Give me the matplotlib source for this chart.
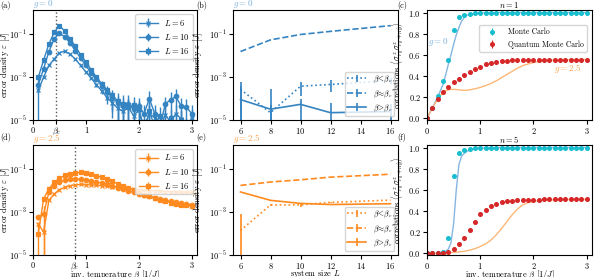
import matplotlib.pyplot as plt
import numpy as np

plt.rcParams['font.family'] = ['cmr10']
plt.rcParams['mathtext.fontset'] = 'cm'
plt.rcParams['axes.formatter.use_mathtext'] = True
plt.rcParams['font.size'] = 6
plt.rcParams['axes.linewidth'] = 0.8
plt.rcParams['xtick.major.size'] = 3
plt.rcParams['ytick.major.size'] = 3
plt.rcParams['xtick.major.width'] = 0.8
plt.rcParams['ytick.major.width'] = 0.8
plt.rcParams['xtick.major.pad'] = 1.5
plt.rcParams['ytick.major.pad'] = 1.5

# farby
blue = '#3584c2'
orange = '#ff8a1f'
blue_txt = '#7aaedb'
orange_txt = '#ffa24d'
cyan = '#17becf'
red = '#d62728'
blue_line = '#86b6e0'
orange_line = '#ffb777'

# ---------- data (a), (d): chyba vs. beta, hodnoty su log10 ----------
beta = [0.1, 0.2, 0.3, 0.4, 0.5, 0.6, 0.7, 0.8, 0.9, 1.0,
        1.1, 1.2, 1.3, 1.4, 1.5, 1.6, 1.7, 1.8, 1.9, 2.0,
        2.1, 2.2, 2.3, 2.4, 2.5, 2.6, 2.7, 2.8, 2.9, 3.0]
sizes = [6, 10, 16]
markers = ['x', 'o', 's']
beta_c_g0 = 0.44
beta_c_g25 = 0.79

log_eps_g0 = {
    6: [-3.6, -3.0, -2.45, -2.15, -1.85, -1.78, -1.92, -2.15, -2.45, -2.75,
        -3.05, -3.35, -3.65, -3.95, -4.2, -4.45, -4.6, -4.4, -4.8, -4.55,
        -5.3, -4.7, -4.9, -5.4, -4.75, -5.1, -4.7, -4.95, -5.3, -4.9],
    10: [-3.35, -2.6, -1.8, -1.2, -0.95, -1.1, -1.4, -1.75, -2.1, -2.45,
         -2.8, -3.1, -3.4, -3.7, -3.95, -4.2, -4.35, -4.25, -4.5, -4.35,
         -4.7, -4.0, -4.7, -5.3, -4.25, -4.05, -3.9, -4.35, -4.4, -4.7],
    16: [-3.0, -2.2, -1.45, -0.9, -0.58, -0.85, -1.2, -1.55, -1.95, -2.3,
         -2.65, -3.0, -3.3, -3.6, -3.85, -4.1, -4.25, -4.4, -4.3, -4.5,
         -5.5, -4.6, -5.3, -4.8, -5.5, -4.9, -5.4, -5.0, -5.6, -5.2],
}
rel_err_g0 = {
    6: [0.3, 0.1, 0.05, 0.05, 0.05, 0.05, 0.05, 0.05, 0.05, 0.1,
        0.1, 0.2, 0.3, 0.5, 0.8, 1.2, 1.5, 1.5, 1.5, 1.5,
        1.5, 1.5, 1.5, 1.5, 1.5, 1.5, 1.5, 1.5, 1.5, 1.5],
    10: [1.2, 0.1, 0.05, 0.05, 0.05, 0.05, 0.05, 0.05, 0.05, 0.1,
         0.1, 0.2, 0.3, 0.5, 0.8, 1.2, 1.5, 1.5, 1.5, 1.5,
         1.5, 1.2, 1.5, 1.5, 1.2, 1.2, 1.2, 1.5, 1.5, 1.5],
    16: [0.1, 0.05, 0.05, 0.05, 0.05, 0.05, 0.05, 0.05, 0.05, 0.1,
         0.1, 0.2, 0.3, 0.5, 0.8, 1.2, 1.5, 1.5, 1.5, 1.5,
         1.5, 1.5, 1.5, 1.5, 1.5, 1.5, 1.5, 1.5, 1.5, 1.5],
}
log_eps_g25 = {
    6: [-3.55, -3.93, -2.45, -2.14, -1.94, -1.83, -1.76, -1.72, -1.7, -1.71,
        -1.72, -1.74, -1.76, -1.78, -1.8, -1.83, -1.86, -1.89, -1.92, -1.95,
        -1.97, -1.99, -2.0, -2.02, -2.03, -2.04, -2.05, -2.06, -2.06, -2.07],
    10: [-3.23, -3.1, -2.06, -1.75, -1.6, -1.5, -1.46, -1.45, -1.46, -1.49,
         -1.53, -1.58, -1.64, -1.7, -1.77, -1.85, -1.92, -2.0, -2.07, -2.14,
         -2.2, -2.26, -2.32, -2.38, -2.44, -2.49, -2.54, -2.58, -2.61, -2.64],
    16: [-4.0, -2.38, -1.9, -1.6, -1.41, -1.28, -1.2, -1.15, -1.14, -1.17,
         -1.22, -1.29, -1.37, -1.46, -1.56, -1.66, -1.76, -1.87, -1.97, -2.07,
         -2.17, -2.26, -2.34, -2.42, -2.49, -2.55, -2.6, -2.64, -2.68, -2.7],
}
rel_err_g25 = {
    6: [0.3, 1.2] + [0.03] * 28,
    10: [0.3, 1.5] + [0.03] * 28,
    16: [1.5, 0.2] + [0.03] * 28,
}

# ---------- data (b), (e): chyba vs. L ----------
L_sizes = [6, 8, 10, 12, 16]
eps_b = {
    'below': [2.7e-4, 2.2e-5, 3.8e-4, 4.6e-4, 7.0e-4],
    'near': [1.6e-2, 5.6e-2, 1.0e-1, 1.4e-1, 2.6e-1],
    'above': [9.0e-5, 3.2e-5, 5.4e-5, 2.2e-5, 2.5e-5],
}
err_b = {
    'below': [3.6e-4, 3.0e-5, 2.5e-4, 2.5e-4, 2.0e-4],
    'near': [0, 0, 0, 0, 0],
    'above': [3.0e-4, 2.6e-4, 4.5e-5, 4.0e-5, 3.0e-5],
}
eps_e = {
    'below': [1.4e-4, 2.2e-3, 2.2e-3, 2.9e-3, 3.7e-3],
    'near': [1.8e-2, 2.6e-2, 3.3e-2, 4.4e-2, 6.0e-2],
    'above': [8.9e-3, 3.6e-3, 2.6e-3, 2.3e-3, 2.5e-3],
}
err_e = {
    'below': [7.0e-4, 2.0e-4, 4.0e-4, 1.0e-4, 1.0e-4],
    'near': [0, 0, 0, 0, 0],
    'above': [0, 0, 0, 0, 0],
}
regimes = ['below', 'near', 'above']
regime_ls = {'below': ':', 'near': '--', 'above': '-'}
regime_lab = {'below': r'$\beta\!<\!\beta_c$', 'near': r'$\beta\!\approx\!\beta_c$',
              'above': r'$\beta\!>\!\beta_c$'}

# ---------- data (c), (f): korelacie ----------
beta_pts = [0.0, 0.1, 0.2, 0.3, 0.4, 0.5, 0.6, 0.7, 0.8, 0.9, 1.0,
            1.1, 1.2, 1.3, 1.4, 1.5, 1.6, 1.7, 1.8, 1.9, 2.0,
            2.1, 2.2, 2.3, 2.4, 2.5, 2.6, 2.7, 2.8, 2.9, 3.0]
mc_n1 = [0.0, 0.1, 0.21, 0.35, 0.55, 0.84, 0.955, 0.98, 0.99, 0.995, 0.997, 0.998, 0.999] + [1.0] * 18
qmc_n1 = [0.0, 0.1, 0.18, 0.25, 0.30, 0.34, 0.375, 0.41, 0.44, 0.47, 0.49, 0.51, 0.525, 0.535,
          0.54, 0.545, 0.55, 0.552, 0.554, 0.555] + [0.556] * 11
mc_n5 = [0.0, 0.0, 0.0, 0.01, 0.145, 0.735, 0.947, 0.978, 0.99, 0.995, 0.997, 0.998, 0.999] + [1.0] * 18
qmc_n5 = [0.0, 0.0, 0.0, 0.002, 0.01, 0.04, 0.085, 0.147, 0.225, 0.30, 0.37, 0.415, 0.447, 0.47,
          0.485, 0.495, 0.50, 0.503, 0.505, 0.507, 0.508, 0.509] + [0.51] * 9
corr_err = 0.01

beta_line = [0, 0.1, 0.2, 0.3, 0.35, 0.4, 0.45, 0.5, 0.55, 0.6,
             0.65, 0.7, 0.75, 0.8, 0.9, 1.0, 1.1, 1.2, 1.3, 1.4,
             1.5, 1.6, 1.7, 1.8, 1.9, 2.0, 2.1, 2.2, 2.3, 2.4,
             2.5, 2.6, 2.7, 2.8, 2.9, 3.0]
g0_n1 = [0, 0.1, 0.2, 0.32, 0.41, 0.51, 0.6, 0.7, 0.79, 0.86,
         0.92, 0.955, 0.975, 0.985, 0.993, 0.996, 0.998, 0.999, 1.0, 1.0] + [1.0] * 16
g25_n1 = [0, 0.1, 0.18, 0.245, 0.262, 0.27, 0.274, 0.275, 0.273, 0.27,
          0.267, 0.265, 0.266, 0.27, 0.28, 0.293, 0.31, 0.33, 0.355, 0.385,
          0.415, 0.445, 0.475, 0.5, 0.515, 0.528, 0.537, 0.543, 0.548, 0.551,
          0.553, 0.554, 0.555, 0.555, 0.556, 0.556]
g0_n5 = [0, 0, 0, 0.01, 0.02, 0.04, 0.1, 0.28, 0.6, 0.84,
         0.92, 0.945, 0.965, 0.978, 0.99, 0.995, 0.997, 0.998, 0.999, 1.0] + [1.0] * 16
g25_n5 = [0, 0, 0, 0.002, 0.004, 0.006, 0.008, 0.01, 0.012, 0.015,
          0.018, 0.02, 0.025, 0.03, 0.045, 0.065, 0.09, 0.125, 0.175, 0.235,
          0.3, 0.365, 0.42, 0.46, 0.48, 0.492, 0.498, 0.502, 0.505, 0.507,
          0.508, 0.509, 0.51, 0.51, 0.51, 0.51]

# ---------- rozlozenie ----------
W, H = 598, 277
fig = plt.figure(figsize=(W / 100, H / 100), dpi=100)


def add_ax(left, top, right, bottom):
    return fig.add_axes([left / W, 1 - bottom / H, (right - left) / W, (bottom - top) / H])


ax_a = add_ax(33, 10, 197, 120)
ax_b = add_ax(233, 10, 398, 120)
ax_c = add_ax(427, 10, 592, 120)
ax_d = add_ax(33, 145, 197, 255)
ax_e = add_ax(233, 145, 398, 255)
ax_f = add_ax(427, 145, 592, 255)

ylab_eps = r'error density $\varepsilon$ $[J]$'
xlab_beta = r'inv. temperature $\beta$ $[1/J]$'
ylab_corr = r'correlations $\langle\sigma^z_{r_0}\sigma^z_{r_0+n\hat{y}}\rangle$'


def log_axis(ax):
    ax.set_yscale('log')
    ax.set_ylim(1e-5, 1.4)
    ax.set_yticks([1e-5, 1e-3, 1e-1])
    ax.yaxis.set_minor_locator(plt.NullLocator())


# (a) a (d)
for ax, logd, rel, col, bc in [(ax_a, log_eps_g0, rel_err_g0, blue, beta_c_g0),
                               (ax_d, log_eps_g25, rel_err_g25, orange, beta_c_g25)]:
    for L, m in zip(sizes, markers):
        y = 10.0 ** np.array(logd[L])
        ax.errorbar(beta, y, yerr=np.array(rel[L]) * y, color=col, marker=m, ms=3.2,
                    lw=1.0, elinewidth=1.0, mew=0.9, label=r'$L=%d$' % L)
    log_axis(ax)
    ax.axvline(bc, color='0.35', ls=':', lw=1.0)
    ax.set_xlim(0, 3.1)
    ax.set_xticks([0, bc, 1, 2, 3])
    ax.set_xticklabels(['0', r'$\beta_c$', '1', '2', '3'])
    ax.set_ylabel(ylab_eps)
    ax.yaxis.set_label_coords(-0.13, 0.5)
    ax.legend(loc='upper right', fontsize=6, handlelength=2.3, borderpad=0.4, labelspacing=0.5)
ax_d.set_xlabel(xlab_beta)
ax_d.xaxis.set_label_coords(0.5, -0.122)

# (b) a (e)
for ax, eps, err, col in [(ax_b, eps_b, err_b, blue), (ax_e, eps_e, err_e, orange)]:
    for r in regimes:
        ax.errorbar(L_sizes, eps[r], yerr=err[r], color=col, ls=regime_ls[r], lw=1.2,
                    elinewidth=1.2, label=regime_lab[r])
    log_axis(ax)
    ax.set_xlim(5.5, 16.5)
    ax.set_xticks([6, 8, 10, 12, 14, 16])
    ax.set_ylabel(ylab_eps)
    ax.yaxis.set_label_coords(-0.17, 0.5)
    ax.legend(loc='lower right', fontsize=5.5, handlelength=2.5, borderpad=0.3, labelspacing=0.4)
ax_e.set_xlabel(r'system size $L$')
ax_e.xaxis.set_label_coords(0.5, -0.122)

# (c) a (f)
for ax, mc, qmc, l0, l25, n in [(ax_c, mc_n1, qmc_n1, g0_n1, g25_n1, 1),
                                (ax_f, mc_n5, qmc_n5, g0_n5, g25_n5, 5)]:
    ax.plot(beta_line, l0, color=blue_line, lw=1.0)
    ax.plot(beta_line, l25, color=orange_line, lw=1.0)
    ax.errorbar(beta_pts, mc, yerr=corr_err, fmt='o', ms=2.6, color=cyan, elinewidth=0.8,
                label='Monte Carlo')
    ax.errorbar(beta_pts, qmc, yerr=corr_err, fmt='o', ms=2.6, color=red, elinewidth=0.8,
                label='Quantum Monte Carlo')
    ax.set_xlim(0, 3.1)
    ax.set_ylim(-0.015, 1.025)
    ax.set_xticks([0, 1, 2, 3])
    ax.set_yticks([0.0, 0.2, 0.4, 0.6, 0.8, 1.0])
    ax.set_ylabel(ylab_corr)
    ax.yaxis.set_label_coords(-0.125, 0.5)
    ax.set_title(r'$n=%d$' % n, fontsize=6, pad=1.5)
ax_c.legend(loc='upper right', bbox_to_anchor=(0.99, 0.9), fontsize=5.5, handlelength=2.5)
ax_c.text(0.22, 0.72, r'$g=0$', color=blue_txt, ha='center', va='center', fontsize=6.5)
ax_c.text(2.65, 0.47, r'$g=2.5$', color=orange_txt, ha='center', va='center', fontsize=6.5)
ax_f.set_xlabel(xlab_beta)
ax_f.xaxis.set_label_coords(0.5, -0.122)

# nadpisy g
for ax in (ax_a, ax_b):
    ax.text(0, 1.0, r'$g=0$', color=blue_txt, transform=ax.transAxes, ha='left', va='bottom',
            fontsize=6.5)
for ax in (ax_d, ax_e):
    ax.text(0, 1.0, r'$g=2.5$', color=orange_txt, transform=ax.transAxes, ha='left',
            va='bottom', fontsize=6.5)

# pismena panelov
for lab, x, y in [('(a)', 0, 6), ('(b)', 196, 6), ('(c)', 397, 6),
                  ('(d)', 0, 138), ('(e)', 196, 138), ('(f)', 397, 138)]:
    fig.text(x / W, 1 - y / H, lab, ha='left', va='center', fontsize=6)

plt.savefig('out.png', dpi=100)
